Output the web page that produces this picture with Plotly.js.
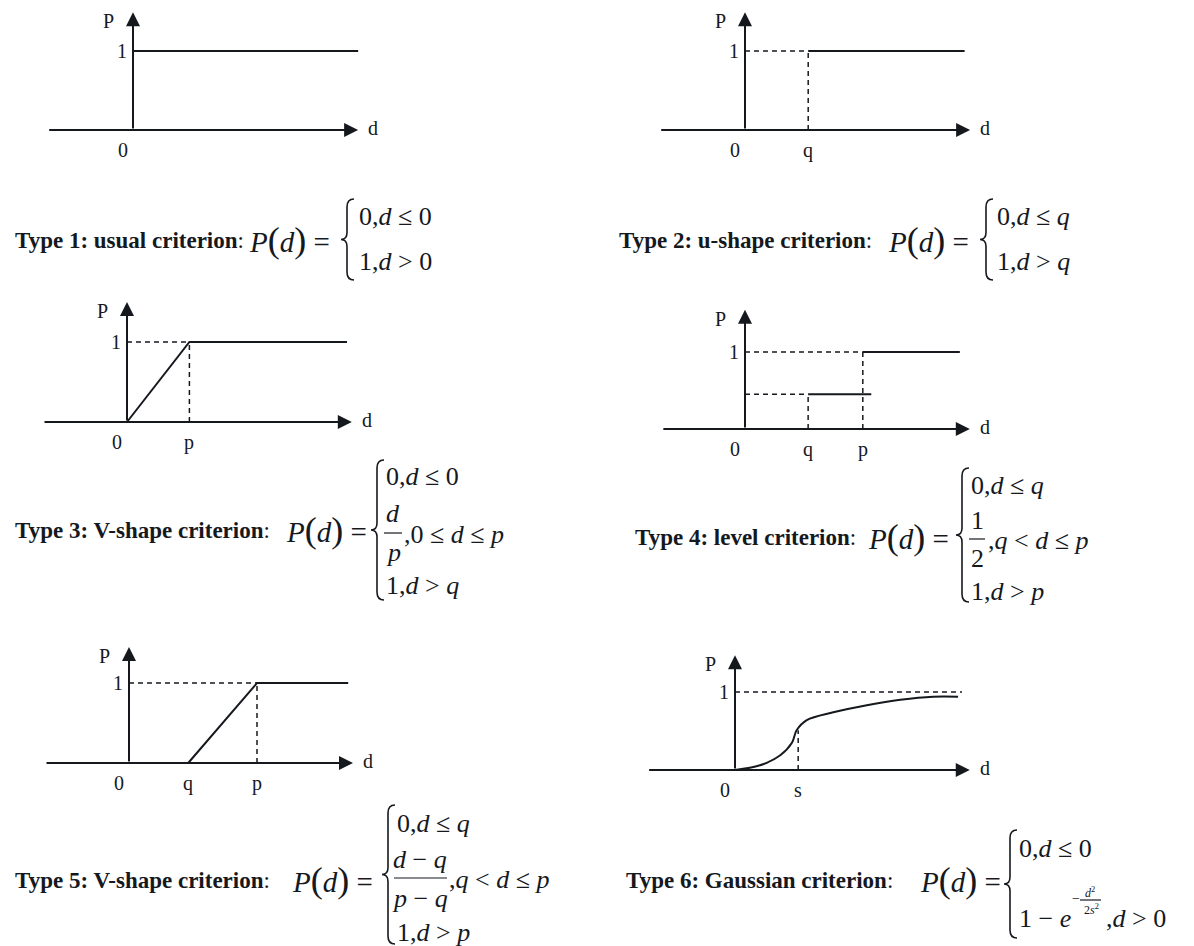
<!DOCTYPE html>
<html>
<head>
<meta charset="utf-8">
<script src="https://cdn.plot.ly/plotly-3.0.1.min.js"></script>
<style>
  html, body { margin: 0; padding: 0; background: #fff; }
  #chart { width: 1194px; height: 946px; }
</style>
</head>
<body>
<div id="chart"></div>
<script>
// --- data read off the six preference-function sketches ---
// d is measured in units of the height of P = 1 in each sketch
const type1X = [0, 2.85];
const type1Y = [1, 1];
const type2X = [0.80, 2.78];
const type2Y = [1, 1];
const type3X = [0, 0.78, 2.75];
const type3Y = [0, 1, 1];
const type4HalfX = [0.82, 1.64];
const type4HalfY = [0.45, 0.45];
const type4FullX = [1.53, 2.79];
const type4FullY = [1, 1];
const type5X = [0.74, 1.60, 2.74];
const type5Y = [0, 1, 1];
const type6X = [0, 0.32, 0.58, 0.73, 0.79, 0.92, 1.26, 1.69, 2.12, 2.54, 2.86];
const type6Y = [0, 0.06, 0.19, 0.35, 0.51, 0.64, 0.74, 0.83, 0.90, 0.94, 0.94];

// thresholds written under each d axis
const tickNames = [['0'], ['0', 'q'], ['0', 'p'], ['0', 'q', 'p'], ['0', 'q', 'p'], ['0', 's']];
const tickValues = [[0], [0, 0.80], [0, 0.78], [0, 0.82, 1.53], [0, 0.74, 1.60], [0, 0.81]];

// dashed guide segments [x0, y0, x1, y1]
const guides = [
    [],
    [[0, 1, 0.80, 1], [0.80, 0, 0.80, 1]],
    [[0, 1, 0.78, 1], [0.78, 0, 0.78, 1]],
    [[0, 1, 1.53, 1], [0, 0.45, 0.82, 0.45], [0.82, 0, 0.82, 0.45], [1.53, 0, 1.53, 1]],
    [[0, 1, 1.60, 1], [1.60, 0, 1.60, 1]],
    [[0, 1, 2.91, 1], [0.81, 0, 0.81, 0.51]]
];

// axis extents: start of d axis, tip of d axis, tip of P axis
const dAxisStart = [-1.08, -1.08, -1.05, -1.08, -1.05, -1.12];
const dAxisEnd = [2.85, 2.85, 2.81, 2.92, 2.80, 3.01];
const pAxisEnd = [1.49, 1.49, 1.50, 1.55, 1.45, 1.47];

// --- page geometry ---
const W = 1194, H = 946;
const INK = '#15191e';
const SERIF = '"Liberation Serif", "Times New Roman", serif';
const origins = [[133, 130], [745, 130], [127, 422], [745, 429], [129, 763], [735, 770]];
const units = [79, 79, 80, 77, 80, 78];
const XR = [-1.3, 3.3];
const YR = [-0.35, 1.6];

const curves = [
    [[type1X, type1Y]],
    [[type2X, type2Y]],
    [[type3X, type3Y]],
    [[type4HalfX, type4HalfY], [type4FullX, type4FullY]],
    [[type5X, type5Y]],
    [[type6X, type6Y, 'spline']]
];

const layout = {
    width: W,
    height: H,
    margin: { l: 0, r: 0, t: 0, b: 0 },
    paper_bgcolor: '#fff',
    plot_bgcolor: 'rgba(0,0,0,0)',
    showlegend: false,
    annotations: [],
    shapes: []
};
const traces = [];

const clamp = v => Math.max(0, Math.min(1, v));

origins.forEach(([ox, oy], i) => {
    const n = i === 0 ? '' : String(i + 1);
    const u = units[i];
    const xa = 'x' + n, ya = 'y' + n;

    layout['xaxis' + n] = {
        domain: [clamp((ox + XR[0] * u) / W), clamp((ox + XR[1] * u) / W)],
        range: XR, visible: false, fixedrange: true, anchor: ya
    };
    layout['yaxis' + n] = {
        domain: [clamp(1 - (oy - YR[0] * u) / H), clamp(1 - (oy - YR[1] * u) / H)],
        range: YR, visible: false, fixedrange: true, anchor: xa
    };

    // solid preference curves
    curves[i].forEach(([xs, ys, shape]) => {
        traces.push({
            x: xs, y: ys, xaxis: xa, yaxis: ya, mode: 'lines',
            line: { color: INK, width: 2, shape: shape || 'linear', smoothing: 1 },
            hoverinfo: 'skip'
        });
    });

    // dashed guides
    if (guides[i].length) {
        const gx = [], gy = [];
        guides[i].forEach(([x0, y0, x1, y1]) => {
            gx.push(x0, x1, null);
            gy.push(y0, y1, null);
        });
        traces.push({
            x: gx, y: gy, xaxis: xa, yaxis: ya, mode: 'lines',
            line: { color: INK, width: 1.5, dash: '5px,4px' },
            hoverinfo: 'skip'
        });
    }

    // axes drawn as arrows (empty text so the shaft starts exactly at its tail)
    const arrow = (x, y, ax, ay) => ({
        xref: xa, yref: ya, axref: xa, ayref: ya,
        x: x, y: y, ax: ax, ay: ay, text: '',
        showarrow: true, arrowhead: 2, arrowsize: 1.4, arrowwidth: 2, arrowcolor: INK
    });
    layout.annotations.push(arrow(dAxisEnd[i], 0, dAxisStart[i], 0));
    layout.annotations.push(arrow(0, pAxisEnd[i], 0, 0));

    const label = (x, y, text, extra) => Object.assign({
        xref: xa, yref: ya, x: x, y: y, text: text, showarrow: false,
        font: { family: SERIF, size: 20, color: INK }
    }, extra);

    layout.annotations.push(label(dAxisEnd[i], 0, 'd', { xanchor: 'left', xshift: 8, yshift: 2 }));
    layout.annotations.push(label(0, pAxisEnd[i], 'P', { xshift: -25, yshift: -9 }));
    layout.annotations.push(label(0, 1, '1', { xshift: -11 }));
    tickNames[i].forEach((t, k) => {
        layout.annotations.push(label(tickValues[i][k], 0, t, {
            yanchor: 'top', yshift: -7, xshift: t === '0' ? -10 : 0
        }));
    });
});

// --- formula captions (paper coordinates from pixels) ---
const px = x => x / W;
const py = y => 1 - y / H;

function note(x, y, text, size, extra) {
    layout.annotations.push(Object.assign({
        xref: 'paper', yref: 'paper', x: px(x), y: py(y), text: text,
        xanchor: 'left', yanchor: 'middle', showarrow: false,
        font: { family: SERIF, size: size, color: INK }
    }, extra || {}));
}

function brace(x, top, bottom) {
    const m = (top + bottom) / 2;
    const pts = [
        ['M', x + 7, top], ['Q', x, top, x, top + 8], ['L', x, m - 7],
        ['Q', x, m, x - 6, m], ['Q', x, m, x, m + 7], ['L', x, bottom - 8],
        ['Q', x, bottom, x + 7, bottom]
    ];
    const path = pts.map(p => {
        const c = [];
        for (let k = 1; k < p.length; k += 2) c.push(px(p[k]) + ',' + py(p[k + 1]));
        return p[0] + ' ' + c.join(' ');
    }).join(' ');
    layout.shapes.push({
        type: 'path', xref: 'paper', yref: 'paper', path: path,
        line: { color: INK, width: 1.6 }
    });
}

function bar(x0, x1, y) {
    layout.shapes.push({
        type: 'line', xref: 'paper', yref: 'paper',
        x0: px(x0), x1: px(x1), y0: py(y), y1: py(y),
        line: { color: INK, width: 1.2 }
    });
}

const PD = '<i>P</i><span style="font-size:36px">(</span><i>d</i><span style="font-size:36px">)</span> =';
const LBL = 23, ROW = 26, PDS = 29;

// Type 1
note(13, 240, '<b>Type 1: usual criterion</b>:', LBL);
note(247, 240, PD, PDS);
brace(347, 199, 280);
note(357, 216, '0,<i>d</i> ≤ 0', ROW);
note(357, 261, '1,<i>d</i> &gt; 0', ROW);

// Type 2
note(617, 240, '<b>Type 2: u-shape criterion</b>:', LBL);
note(886, 240, PD, PDS);
brace(986, 199, 280);
note(995, 216, '0,<i>d</i> ≤ <i>q</i>', ROW);
note(995, 261, '1,<i>d</i> &gt; <i>q</i>', ROW);

// Type 3
note(13, 530, '<b>Type 3: V-shape criterion</b>:', LBL);
note(284, 530, PD, PDS);
brace(377, 460, 600);
note(384, 476, '0,<i>d</i> ≤ 0', ROW);
note(393, 513, '<i>d</i>', ROW, { xanchor: 'center' });
bar(384, 402, 533);
note(393, 552, '<i>p</i>', ROW, { xanchor: 'center' });
note(402, 534, ',0 ≤ <i>d</i> ≤ <i>p</i>', ROW);
note(384, 585, '1,<i>d</i> &gt; <i>q</i>', ROW);

// Type 4
note(633, 537, '<b>Type 4: level criterion</b>:', LBL);
note(866, 537, PD, PDS);
brace(962, 468, 602);
note(969, 485, '0,<i>d</i> ≤ <i>q</i>', ROW);
note(977, 520, '1', ROW, { xanchor: 'center' });
bar(969, 985, 539);
note(977, 558, '2', ROW, { xanchor: 'center' });
note(986, 540, ',<i>q</i> &lt; <i>d</i> ≤ <i>p</i>', ROW);
note(969, 591, '1,<i>d</i> &gt; <i>p</i>', ROW);

// Type 5
note(13, 880, '<b>Type 5: V-shape criterion</b>:', LBL);
note(290, 880, PD, PDS);
brace(388, 805, 944);
note(395, 823, '0,<i>d</i> ≤ <i>q</i>', ROW);
note(420, 859, '<i>d</i> − <i>q</i>', ROW, { xanchor: 'center' });
bar(394, 447, 878);
note(420, 898, '<i>p</i> − <i>q</i>', ROW, { xanchor: 'center' });
note(447, 879, ',<i>q</i> &lt; <i>d</i> ≤ <i>p</i>', ROW);
note(395, 932, '1,<i>d</i> &gt; <i>p</i>', ROW);

// Type 6
note(624, 880, '<b>Type 6: Gaussian criterion</b>:', LBL);
note(918, 880, PD, PDS);
brace(1010, 830, 938);
note(1017, 848, '0,<i>d</i> ≤ 0', ROW);
note(1017, 918, '1 − <i>e</i>', ROW);
note(1070, 898, '−', 14);
note(1090, 892, '<i>d</i><sup>2</sup>', 12, { xanchor: 'center' });
bar(1080, 1101, 900);
note(1091, 909, '2<i>s</i><sup>2</sup>', 12, { xanchor: 'center' });
note(1104, 918, ',<i>d</i> &gt; 0', ROW);

Plotly.newPlot('chart', traces, layout, { staticPlot: true, displayModeBar: false });
</script>
</body>
</html>
